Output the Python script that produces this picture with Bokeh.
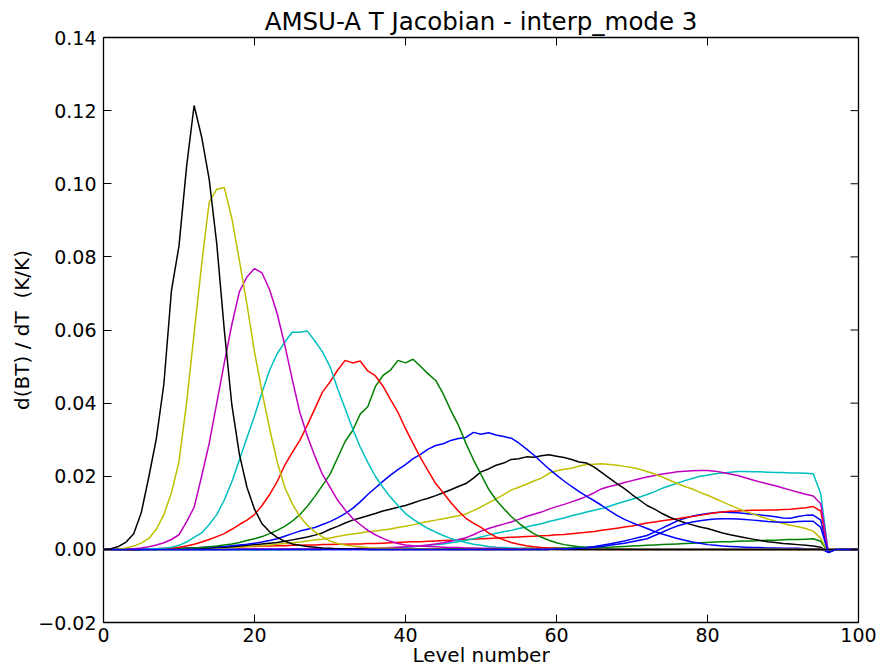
import math
from bokeh.plotting import figure
from bokeh.models import Range1d, SingleIntervalTicker, CustomJSTickFormatter
from bokeh.embed import file_html
from bokeh.resources import INLINE

title_text = "AMSU-A T Jacobian - interp_mode 3"
x_label = "Level number"
y_label = "d(BT) / dT \u00a0(K/K)"

x_ticks = [0, 20, 40, 60, 80, 100]
y_ticks = [-0.02, 0.0, 0.02, 0.04, 0.06, 0.08, 0.10, 0.12, 0.14]

levels = list(range(101))

ch1 = [
    0, 0, 0, 0, 0, 0, 0, 0, 0, 0,
    0, 0, 0, 0, 0, 0, 0, 0, 0, 0,
    0, 0, 0, 0, 0, 0, 0, 0, 0, 0,
    0, 0, 0, 0, 0, 0, 0, 0, 0, 0,
    0, 0, 0, 0, 0, 0, 0, 0, 0, 0,
    0, 0, 0, 0, 0, 0, 0, 0, 0, 0,
    0.0001, 0.0002, 0.0003, 0.0004, 0.0006, 0.0008, 0.0011, 0.0015, 0.0019, 0.0023,
    0.0028, 0.0033, 0.0038, 0.0048, 0.0058, 0.0068, 0.0078, 0.0085, 0.0091, 0.0095,
    0.0098, 0.0100, 0.0102, 0.0101, 0.0100, 0.0098, 0.0096, 0.0094, 0.0092, 0.0089,
    0.0086, 0.0085, 0.0090, 0.0093, 0.0094, 0.0080, -0.0009, 0, 0, 0,
    0]

ch2 = [
    0, 0, 0, 0, 0, 0, 0, 0, 0, 0,
    0, 0, 0, 0, 0, 0, 0, 0, 0, 0,
    0, 0, 0, 0, 0, 0, 0, 0, 0, 0,
    0.0001, 0.0001, 0.0001, 0.0001, 0.0001, 0.0001, 0.0001, 0.0001, 0.0001, 0.0001,
    0.0001, 0.0001, 0.0001, 0.0001, 0.0001, 0.0001, 0.0001, 0.0001, 0.0001, 0.0001,
    0.0001, 0.0001, 0.0002, 0.0002, 0.0002, 0.0002, 0.0003, 0.0003, 0.0003, 0.0003,
    0.0004, 0.0004, 0.0004, 0.0005, 0.0005, 0.0005, 0.0006, 0.0006, 0.0007, 0.0008,
    0.0009, 0.0010, 0.0011, 0.0012, 0.0013, 0.0014, 0.0015, 0.0016, 0.0017, 0.0018,
    0.0019, 0.0020, 0.0021, 0.0021, 0.0022, 0.0023, 0.0023, 0.0024, 0.0025, 0.0025,
    0.0026, 0.0027, 0.0027, 0.0028, 0.0029, 0.0022, -0.0008, 0, 0, 0,
    0]

ch3 = [
    0, 0, 0, 0, 0, 0.0001, 0.0001, 0.0002, 0.0002, 0.0003,
    0.0003, 0.0004, 0.0004, 0.0005, 0.0005, 0.0006, 0.0006, 0.0007, 0.0007, 0.0008,
    0.0008, 0.0009, 0.0009, 0.0010, 0.0010, 0.0011, 0.0011, 0.0012, 0.0012, 0.0013,
    0.0013, 0.0014, 0.0014, 0.0015, 0.0015, 0.0016, 0.0016, 0.0017, 0.0018, 0.0019,
    0.0020, 0.0021, 0.0021, 0.0022, 0.0023, 0.0024, 0.0025, 0.0026, 0.0027, 0.0028,
    0.0029, 0.0030, 0.0031, 0.0032, 0.0033, 0.0034, 0.0035, 0.0036, 0.0037, 0.0038,
    0.0040, 0.0041, 0.0043, 0.0045, 0.0047, 0.0049, 0.0052, 0.0055, 0.0058, 0.0061,
    0.0064, 0.0068, 0.0072, 0.0075, 0.0078, 0.0081, 0.0084, 0.0087, 0.0090, 0.0093,
    0.0097, 0.0100, 0.0102, 0.0104, 0.0105, 0.0106, 0.0107, 0.0107, 0.0108, 0.0108,
    0.0109, 0.0110, 0.0112, 0.0114, 0.0117, 0.0105, -0.0008, 0, 0, 0,
    0]

ch4 = [
    0, 0, 0, 0, 0, 0, 0, 0, 0, 0,
    0, 0, 0, 0, 0, 0, 0, 0, 0, 0,
    0, 0, 0, 0, 0, 0.0001, 0.0001, 0.0001, 0.0001, 0.0001,
    0.0001, 0.0001, 0.0001, 0.0002, 0.0002, 0.0002, 0.0003, 0.0003, 0.0004, 0.0005,
    0.0006, 0.0007, 0.0009, 0.0011, 0.0013, 0.0015, 0.0018, 0.0021, 0.0025, 0.0029,
    0.0034, 0.0039, 0.0044, 0.0048, 0.0052, 0.0057, 0.0061, 0.0066, 0.0070, 0.0076,
    0.0081, 0.0086, 0.0092, 0.0097, 0.0102, 0.0107, 0.0112, 0.0118, 0.0125, 0.0131,
    0.0137, 0.0143, 0.0150, 0.0158, 0.0167, 0.0174, 0.0181, 0.0188, 0.0194, 0.0200,
    0.0203, 0.0207, 0.0209, 0.0211, 0.0213, 0.0213, 0.0212, 0.0212, 0.0211, 0.0210,
    0.0210, 0.0209, 0.0209, 0.0208, 0.0207, 0.0152, -0.0008, 0, 0, 0,
    0]

ch5 = [
    0, 0, 0, 0, 0, 0, 0, 0, 0, 0,
    0, 0, 0, 0, 0, 0, 0, 0, 0.0001, 0.0001,
    0.0001, 0.0001, 0.0001, 0.0001, 0.0001, 0.0001, 0.0001, 0.0001, 0.0001, 0.0001,
    0.0001, 0.0002, 0.0002, 0.0002, 0.0003, 0.0003, 0.0003, 0.0004, 0.0005, 0.0006,
    0.0007, 0.0008, 0.0010, 0.0012, 0.0015, 0.0018, 0.0022, 0.0027, 0.0032, 0.0040,
    0.0050, 0.0057, 0.0063, 0.0069, 0.0075, 0.0082, 0.0090, 0.0096, 0.0102, 0.0110,
    0.0117, 0.0123, 0.0130, 0.0137, 0.0145, 0.0155, 0.0166, 0.0172, 0.0177, 0.0183,
    0.0188, 0.0193, 0.0198, 0.0202, 0.0206, 0.0209, 0.0212, 0.0214, 0.0215, 0.0216,
    0.0216, 0.0214, 0.0210, 0.0206, 0.0202, 0.0196, 0.0190, 0.0184, 0.0179, 0.0174,
    0.0168, 0.0162, 0.0156, 0.0151, 0.0146, 0.0125, -0.0008, 0, 0, 0,
    0]

ch6 = [
    0, 0, 0, 0, 0, 0, 0, 0, 0, 0.0001,
    0.0001, 0.0001, 0.0002, 0.0002, 0.0003, 0.0003, 0.0004, 0.0005, 0.0006, 0.0007,
    0.0009, 0.0010, 0.0012, 0.0014, 0.0016, 0.0018, 0.0020, 0.0023, 0.0026, 0.0028,
    0.0031, 0.0035, 0.0039, 0.0042, 0.0045, 0.0048, 0.0050, 0.0053, 0.0056, 0.0060,
    0.0063, 0.0067, 0.0072, 0.0076, 0.0080, 0.0084, 0.0088, 0.0092, 0.0097, 0.0106,
    0.0116, 0.0127, 0.0138, 0.0150, 0.0162, 0.0170, 0.0178, 0.0187, 0.0195, 0.0208,
    0.0215, 0.0219, 0.0222, 0.0228, 0.0232, 0.0233, 0.0234, 0.0232, 0.0230, 0.0227,
    0.0224, 0.0219, 0.0213, 0.0206, 0.0198, 0.0189, 0.0180, 0.0172, 0.0165, 0.0156,
    0.0148, 0.0139, 0.0130, 0.0121, 0.0112, 0.0104, 0.0097, 0.0090, 0.0083, 0.0077,
    0.0071, 0.0066, 0.0062, 0.0057, 0.0050, 0.0030, -0.0008, 0, 0, 0,
    0]

ch7 = [
    0, 0, 0, 0, 0, 0, 0.0001, 0.0001, 0.0001, 0.0001,
    0.0002, 0.0002, 0.0003, 0.0003, 0.0004, 0.0005, 0.0006, 0.0007, 0.0009, 0.0011,
    0.0013, 0.0015, 0.0017, 0.0019, 0.0022, 0.0026, 0.0030, 0.0034, 0.0039, 0.0045,
    0.0055, 0.0063, 0.0072, 0.0080, 0.0086, 0.0092, 0.0098, 0.0105, 0.0110, 0.0115,
    0.0120, 0.0127, 0.0134, 0.0140, 0.0147, 0.0155, 0.0163, 0.0172, 0.0180, 0.0195,
    0.0212, 0.0220, 0.0230, 0.0236, 0.0246, 0.0248, 0.0253, 0.0252, 0.0256, 0.0259,
    0.0255, 0.0251, 0.0246, 0.0239, 0.0236, 0.0225, 0.0210, 0.0195, 0.0180, 0.0166,
    0.0150, 0.0135, 0.0120, 0.0110, 0.0098, 0.0088, 0.0080, 0.0073, 0.0067, 0.0061,
    0.0057, 0.0051, 0.0045, 0.0040, 0.0036, 0.0032, 0.0028, 0.0024, 0.0021, 0.0019,
    0.0016, 0.0015, 0.0013, 0.0011, 0.0009, 0.0006, -0.0008, 0, 0, 0,
    0]

ch8 = [
    0, 0, 0, 0, 0, 0, 0, 0, 0.0001, 0.0001,
    0.0002, 0.0003, 0.0004, 0.0005, 0.0006, 0.0007, 0.0008, 0.0010, 0.0012, 0.0014,
    0.0017, 0.0020, 0.0024, 0.0029, 0.0036, 0.0043, 0.0050, 0.0055, 0.0060, 0.0068,
    0.0076, 0.0086, 0.0098, 0.0112, 0.0130, 0.0150, 0.0168, 0.0186, 0.0203, 0.0218,
    0.0232, 0.0248, 0.0260, 0.0274, 0.0284, 0.0289, 0.0298, 0.0303, 0.0306, 0.0320,
    0.0315, 0.0319, 0.0313, 0.0309, 0.0304, 0.0291, 0.0275, 0.0258, 0.0239, 0.0220,
    0.0203, 0.0187, 0.0172, 0.0158, 0.0145, 0.0133, 0.0120, 0.0106, 0.0093, 0.0082,
    0.0073, 0.0065, 0.0057, 0.0049, 0.0042, 0.0036, 0.0030, 0.0025, 0.0020, 0.0017,
    0.0013, 0.0011, 0.0009, 0.0008, 0.0007, 0.0006, 0.0005, 0.0005, 0.0004, 0.0004,
    0.0003, 0.0003, 0.0003, 0.0002, 0.0002, 0.0001, -0.0008, 0, 0, 0,
    0]

ch9 = [
    0, 0, 0, 0, 0, 0, 0.0001, 0.0001, 0.0001, 0.0002,
    0.0002, 0.0003, 0.0004, 0.0005, 0.0007, 0.0009, 0.0012, 0.0015, 0.0019, 0.0024,
    0.0029, 0.0035, 0.0043, 0.0052, 0.0063, 0.0077, 0.0095, 0.0118, 0.0145, 0.0175,
    0.0205, 0.0250, 0.0295, 0.0325, 0.0370, 0.0390, 0.0445, 0.0475, 0.0490, 0.0517,
    0.0510, 0.0520, 0.0500, 0.0480, 0.0462, 0.0425, 0.0380, 0.0340, 0.0290, 0.0245,
    0.0205, 0.0165, 0.0135, 0.0112, 0.0090, 0.0072, 0.0056, 0.0043, 0.0033, 0.0025,
    0.0018, 0.0013, 0.0010, 0.0007, 0.0005, 0.0004, 0.0003, 0.0002, 0.0002, 0.0001,
    0.0001, 0, 0, 0, 0, 0, 0, 0, 0, 0,
    0, 0, 0, 0, 0, 0, 0, 0, 0, 0,
    0, 0, 0, 0, 0, 0, 0, 0, 0, 0,
    0]

ch10 = [
    0, 0, 0, 0, 0, 0.0001, 0.0001, 0.0002, 0.0003, 0.0004,
    0.0006, 0.0009, 0.0014, 0.0020, 0.0027, 0.0035, 0.0043, 0.0055, 0.0068, 0.0080,
    0.0095, 0.0120, 0.0150, 0.0185, 0.0230, 0.0265, 0.0298, 0.0340, 0.0385, 0.0430,
    0.0458, 0.0490, 0.0517, 0.0510, 0.0515, 0.0488, 0.0475, 0.0447, 0.0410, 0.0375,
    0.0330, 0.0290, 0.0250, 0.0215, 0.0180, 0.0155, 0.0128, 0.0105, 0.0085, 0.0072,
    0.0060, 0.0045, 0.0034, 0.0026, 0.0019, 0.0014, 0.0010, 0.0007, 0.0005, 0.0004,
    0.0003, 0.0002, 0.0002, 0.0001, 0.0001, 0, 0, 0, 0, 0,
    0, 0, 0, 0, 0, 0, 0, 0, 0, 0,
    0, 0, 0, 0, 0, 0, 0, 0, 0, 0,
    0, 0, 0, 0, 0, 0, 0, 0, 0, 0,
    0]

ch11 = [
    0, 0, 0, 0, 0.0001, 0.0001, 0.0002, 0.0002, 0.0003, 0.0006,
    0.0011, 0.0020, 0.0033, 0.0045, 0.0068, 0.0095, 0.0135, 0.0185, 0.0245, 0.0305,
    0.0365, 0.0430, 0.0490, 0.0535, 0.0567, 0.0594, 0.0594, 0.0597, 0.0570, 0.0540,
    0.0500, 0.0440, 0.0385, 0.0330, 0.0280, 0.0238, 0.0200, 0.0170, 0.0143, 0.0120,
    0.0098, 0.0083, 0.0069, 0.0057, 0.0047, 0.0038, 0.0030, 0.0024, 0.0019, 0.0014,
    0.0011, 0.0008, 0.0006, 0.0005, 0.0004, 0.0003, 0.0002, 0.0002, 0.0002, 0.0001,
    0.0001, 0, 0, 0, 0, 0, 0, 0, 0, 0,
    0, 0, 0, 0, 0, 0, 0, 0, 0, 0,
    0, 0, 0, 0, 0, 0, 0, 0, 0, 0,
    0, 0, 0, 0, 0, 0, 0, 0, 0, 0,
    0]

ch12 = [
    0, 0, 0, 0.0001, 0.0002, 0.0004, 0.0007, 0.0012, 0.0018, 0.0027,
    0.0040, 0.0075, 0.0115, 0.0200, 0.0290, 0.0400, 0.0510, 0.0615, 0.0705, 0.0745,
    0.0768, 0.0756, 0.0710, 0.0645, 0.0560, 0.0465, 0.0375, 0.0310, 0.0255, 0.0205,
    0.0170, 0.0135, 0.0108, 0.0085, 0.0068, 0.0052, 0.0040, 0.0030, 0.0022, 0.0016,
    0.0012, 0.0010, 0.0009, 0.0008, 0.0007, 0.0006, 0.0005, 0.0005, 0.0004, 0.0004,
    0.0003, 0.0003, 0.0003, 0.0002, 0.0002, 0.0002, 0.0001, 0.0001, 0.0001, 0.0001,
    0, 0, 0, 0, 0, 0, 0, 0, 0, 0,
    0, 0, 0, 0, 0, 0, 0, 0, 0, 0,
    0, 0, 0, 0, 0, 0, 0, 0, 0, 0,
    0, 0, 0, 0, 0, 0, 0, 0, 0, 0,
    0]

ch13 = [
    0, 0, 0.0001, 0.0004, 0.0009, 0.0017, 0.0030, 0.0055, 0.0095, 0.0155,
    0.0240, 0.0400, 0.0590, 0.0780, 0.0950, 0.0985, 0.0990, 0.0905, 0.0790, 0.0670,
    0.0540, 0.0430, 0.0330, 0.0240, 0.0170, 0.0125, 0.0090, 0.0066, 0.0048, 0.0034,
    0.0023, 0.0016, 0.0012, 0.0009, 0.0007, 0.0005, 0.0004, 0.0003, 0.0003, 0.0002,
    0.0002, 0.0001, 0.0001, 0.0001, 0.0001, 0.0001, 0, 0, 0, 0,
    0, 0, 0, 0, 0, 0, 0, 0, 0, 0,
    0, 0, 0, 0, 0, 0, 0, 0, 0, 0,
    0, 0, 0, 0, 0, 0, 0, 0, 0, 0,
    0, 0, 0, 0, 0, 0, 0, 0, 0, 0,
    0, 0, 0, 0, 0, 0, 0, 0, 0, 0,
    0]

ch14 = [
    0, 0.0002, 0.0008, 0.0020, 0.0043, 0.0100, 0.0198, 0.0303, 0.0453, 0.0708,
    0.0830, 0.1046, 0.1214, 0.1128, 0.1012, 0.0836, 0.0600, 0.0395, 0.0260, 0.0170,
    0.0110, 0.0070, 0.0048, 0.0033, 0.0022, 0.0015, 0.0011, 0.0008, 0.0006, 0.0004,
    0.0003, 0.0002, 0.0002, 0.0001, 0.0001, 0, 0, 0, 0, 0,
    0, 0, 0, 0, 0, 0, 0, 0, 0, 0,
    0, 0, 0, 0, 0, 0, 0, 0, 0, 0,
    0, 0, 0, 0, 0, 0, 0, 0, 0, 0,
    0, 0, 0, 0, 0, 0, 0, 0, 0, 0,
    0, 0, 0, 0, 0, 0, 0, 0, 0, 0,
    0, 0, 0, 0, 0, 0, 0, 0, 0, 0,
    0]

ch15 = [
    0, 0, 0, 0, 0, 0, 0, 0, 0, 0,
    0, 0, 0, 0, 0, 0, 0, 0, 0, 0,
    0, 0, 0, 0, 0, 0, 0, 0, 0, 0,
    0, 0, 0, 0, 0, 0, 0, 0, 0, 0,
    0, 0, 0, 0, 0, 0, 0, 0, 0, 0,
    0, 0, 0, 0, 0, 0, 0, 0, 0, 0,
    0.0001, 0.0001, 0.0002, 0.0003, 0.0004, 0.0006, 0.0008, 0.0011, 0.0014, 0.0017,
    0.0021, 0.0025, 0.0029, 0.0038, 0.0047, 0.0056, 0.0064, 0.0070, 0.0075, 0.0078,
    0.0081, 0.0083, 0.0084, 0.0084, 0.0083, 0.0082, 0.0080, 0.0078, 0.0076, 0.0075,
    0.0074, 0.0074, 0.0076, 0.0077, 0.0077, 0.0060, -0.0009, 0, 0, 0,
    0]

channels = [ch1, ch2, ch3, ch4, ch5, ch6, ch7, ch8, ch9, ch10, ch11, ch12, ch13, ch14, ch15]
color_cycle = ["#0000ff", "#008000", "#ff0000", "#00bfbf", "#bf00bf", "#bfbf00", "#000000"]

FONT = "DejaVu Sans"
X0, X1 = 0, 100
Y0, Y1 = -0.02, 0.14

p = figure(width=881, height=672, x_range=Range1d(X0, X1), y_range=Range1d(Y0, Y1),
           output_backend="svg", toolbar_location=None, title=title_text)
p.min_border_left = 103
p.min_border_right = 23
p.min_border_top = 37
p.min_border_bottom = 50
p.background_fill_color = "white"
p.border_fill_color = "white"
p.outline_line_color = "black"
p.outline_line_width = 1.3
p.grid.visible = False

p.title.text_font = FONT
p.title.text_font_size = "24.5px"
p.title.text_font_style = "normal"
p.title.text_color = "black"
p.title.align = "center"
p.title.standoff = 4
p.title.offset = 0

for i, ch in enumerate(channels):
    p.line(levels, ch, line_color=color_cycle[i % 7], line_width=1.5)

# inward tick marks on the top and right edges (matplotlib style box ticks)
p.ray(x=x_ticks, y=[Y1] * len(x_ticks), length=8, length_units="screen",
      angle=-math.pi / 2, line_color="black", line_width=1)
p.ray(x=[X1] * len(y_ticks), y=y_ticks, length=8, length_units="screen",
      angle=math.pi, line_color="black", line_width=1)

yfmt = CustomJSTickFormatter(code="""
var v = Math.abs(tick) < 1e-9 ? 0 : tick;
return (v < 0 ? '\\u2212' : '') + Math.abs(v).toFixed(2);
""")

def style_axis(ax):
    ax.axis_line_color = None
    ax.major_tick_in = 8
    ax.major_tick_out = 0
    ax.minor_tick_line_color = None
    ax.major_tick_line_color = "black"
    ax.major_tick_line_width = 1
    ax.major_label_text_font = FONT
    ax.major_label_text_font_size = "19px"
    ax.major_label_text_color = "black"
    ax.axis_label_text_font = FONT
    ax.axis_label_text_font_size = "20px"
    ax.axis_label_text_font_style = "normal"
    ax.axis_label_text_color = "black"

xa = p.xaxis[0]
xa.ticker = SingleIntervalTicker(interval=20, num_minor_ticks=0)
xa.axis_label = x_label
style_axis(xa)
xa.major_label_standoff = 5
xa.axis_label_standoff = -2

ya = p.yaxis[0]
ya.ticker = SingleIntervalTicker(interval=0.02, num_minor_ticks=0)
ya.formatter = yfmt
ya.axis_label = y_label
style_axis(ya)
ya.major_label_standoff = 7
ya.axis_label_standoff = 1

open("out.html", "w").write(file_html(p, INLINE))
